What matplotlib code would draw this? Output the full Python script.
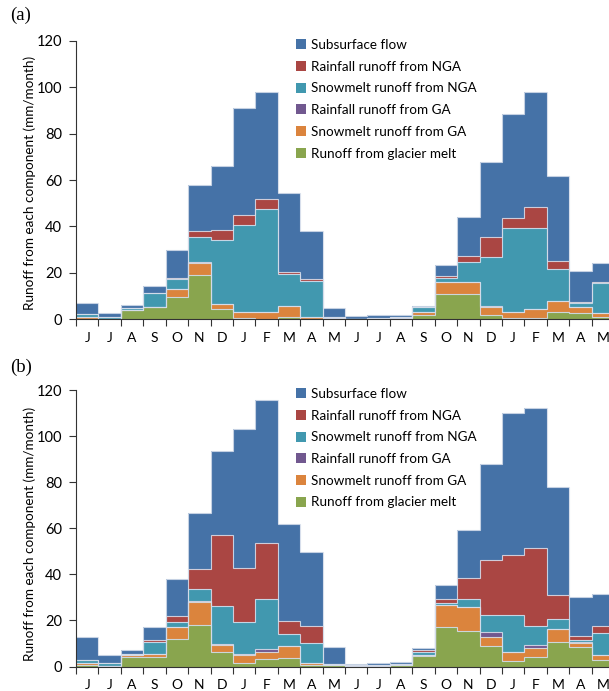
import numpy as np
import matplotlib
matplotlib.use("Agg")
import matplotlib.pyplot as plt
from matplotlib.patches import Patch

months = ["J", "J", "A", "S", "O", "N", "D", "J", "F", "M", "A", "M",
          "J", "J", "A", "S", "O", "N", "D", "J", "F", "M", "A", "M"]

series_names = ["Runoff from glacier melt", "Snowmelt runoff from GA", "Rainfall runoff from GA",
                "Snowmelt runoff from NGA", "Rainfall runoff from NGA", "Subsurface flow"]
series_colors = ["#89A54E", "#DB843D", "#71588F", "#4198AF", "#AA4643", "#4572A7"]

# Panel (a)
glacier_a = [0.2, 0, 3.8, 5.0, 9.6, 19.0, 4.2, 0.3, 0.2, 0.7, 0.2, 0.3,
             0, 0, 0.5, 1.7, 10.6, 10.6, 1.6, 0.5, 0.3, 2.9, 2.4, 0.7]
snowGA_a = [0.5, 0.2, 0.2, 0.3, 3.2, 5.3, 2.3, 2.7, 2.8, 4.9, 0.8, 0.2,
            0, 0, 0, 1.5, 5.5, 5.5, 3.7, 2.7, 3.9, 4.9, 2.9, 1.7]
rainGA_a = [0, 0, 0, 0, 0, 0.4, 0, 0, 0, 0, 0, 0,
            0, 0, 0, 0, 0, 0, 0.3, 0, 0, 0, 0, 0]
snowNGA_a = [1.3, 0.5, 0.6, 5.8, 4.3, 10.7, 27.6, 37.4, 44.3, 13.7, 15.4, 0.4,
             0.2, 0.3, 0.5, 1.8, 1.7, 8.4, 21.3, 36.2, 35.2, 13.6, 1.5, 13.0]
rainNGA_a = [0, 0, 0, 0, 0.5, 2.4, 4.3, 4.5, 4.6, 0.8, 0.9, 0,
             0, 0, 0, 0, 0.8, 2.8, 8.4, 4.3, 8.8, 3.5, 0.5, 0.6]
sub_a = [5.0, 2.0, 1.3, 3.1, 12.3, 20.0, 27.6, 46.3, 46.2, 34.1, 20.8, 3.9,
         1.1, 1.3, 0.6, 0.5, 4.6, 16.6, 32.3, 44.8, 49.6, 36.8, 13.4, 8.2]

# Panel (b)
glacier_b = [0.5, 0.3, 4.3, 4.3, 11.9, 17.8, 6.4, 1.4, 3.3, 3.8, 0.6, 0.6,
             0.3, 0.4, 0.5, 4.5, 17.1, 15.6, 8.7, 2.2, 4.3, 10.8, 8.4, 2.9]
snowGA_b = [0.9, 0, 0.5, 1.1, 5.2, 10.0, 2.9, 3.7, 3.2, 5.2, 0.8, 0.2,
            0, 0, 0, 0.5, 9.5, 10.1, 4.3, 3.9, 3.9, 5.4, 1.7, 2.2]
rainGA_b = [0, 0, 0, 0, 0, 0.8, 0.4, 0.5, 1.0, 0, 0, 0,
            0, 0, 0, 0, 0, 0, 1.8, 0, 1.2, 0, 0.7, 0]
snowNGA_b = [1.3, 1.1, 0.6, 5.2, 2.1, 5.0, 16.5, 13.9, 22.0, 5.0, 8.7, 0.3,
             0.3, 0.4, 0.5, 1.5, 0.9, 3.5, 7.6, 16.3, 8.0, 4.3, 0.8, 9.4]
rainNGA_b = [0, 0, 0, 1.1, 2.9, 8.6, 30.8, 23.2, 23.9, 5.7, 7.3, 0,
             0, 0, 0.2, 0.5, 1.7, 9.1, 23.9, 26.0, 34.2, 10.6, 1.5, 2.9]
sub_b = [10.3, 3.5, 1.8, 5.5, 15.9, 24.3, 36.6, 60.4, 62.3, 42.2, 32.1, 7.3,
         0.6, 0.6, 0.7, 1.0, 6.1, 20.8, 41.7, 61.8, 60.8, 46.6, 17.1, 14.0]

yticks = [0, 20, 40, 60, 80, 100, 120]
ylabel = "Runoff from each component (mm/month)"

FONT = ["Lato", "DejaVu Sans"]
W, H = 609, 691
fig = plt.figure(figsize=(W / 100, H / 100), dpi=100)


def draw_panel(rect, layers, tag, tag_y, leg_top, label_cy):
    ax = fig.add_axes(rect)
    n = len(months)
    edges = np.arange(n + 1)
    base = np.zeros(n)
    tops = []
    for vals, col in zip(layers, series_colors):
        top = base + np.asarray(vals, dtype=float)
        ax.stairs(top, edges, baseline=base, fill=True, color=col, lw=0)
        tops.append(top)
        base = top
    for top in tops:
        ax.stairs(top, edges, baseline=None, color="#d4dcea", lw=0.8, alpha=0.9)
    ax.set_xlim(0, n)
    ax.set_ylim(0, 120)
    for s in ["top", "right"]:
        ax.spines[s].set_visible(False)
    ax.spines["left"].set_color("#333333")
    ax.spines["bottom"].set_color("#333333")
    ax.set_xticks(edges)
    ax.set_xticklabels([])
    ax.set_xticks(np.arange(n) + 0.5, minor=True)
    ax.set_xticklabels(months, minor=True, fontsize=10, family=FONT)
    ax.tick_params(axis="x", which="major", length=5, color="#333333", direction="out")
    ax.tick_params(axis="x", which="minor", length=0, pad=9)
    ax.set_yticks(yticks)
    ax.set_yticklabels([str(v) for v in yticks], fontsize=10.5, family=FONT)
    ax.tick_params(axis="y", length=5, color="#333333", pad=5)
    ax.set_ylabel(ylabel, fontsize=9.7, family=FONT)
    ax.yaxis.set_label_coords(-0.074, label_cy)
    handles = [Patch(facecolor=c, edgecolor="none") for c in series_colors][::-1]
    labels = series_names[::-1]
    fig.legend(handles, labels, loc="upper left",
               bbox_to_anchor=(296 / W, 1 - leg_top / H),
               frameon=False, prop={"family": FONT, "size": 9.7},
               handlelength=0.75, handleheight=0.75, handletextpad=0.35,
               labelspacing=0.72, borderaxespad=0, borderpad=0)
    fig.text(10 / W, 1 - tag_y / H, tag, fontsize=13.5, family="Liberation Serif",
             va="center", ha="left")
    return ax


ax1 = draw_panel([76 / W, (H - 319) / H, 538 / W, 278 / H],
                 [glacier_a, snowGA_a, rainGA_a, snowNGA_a, rainNGA_a, sub_a],
                 "(a)", 15, 39, 0.49)
ax2 = draw_panel([76 / W, (H - 666.5) / H, 538 / W, 276.5 / H],
                 [glacier_b, snowGA_b, rainGA_b, snowNGA_b, rainNGA_b, sub_b],
                 "(b)", 367, 388, 0.48)

fig.savefig("out.png", dpi=100)
